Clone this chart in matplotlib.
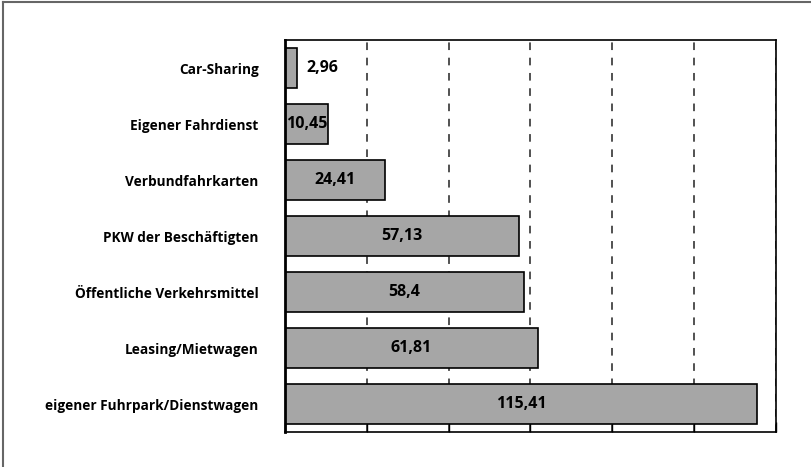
import matplotlib.pyplot as plt
from matplotlib.lines import Line2D

# Kategorien und Werte (von oben nach unten)
categories = ['Car-Sharing', 'Eigener Fahrdienst', 'Verbundfahrkarten',
              'PKW der Beschäftigten', 'Öffentliche Verkehrsmittel',
              'Leasing/Mietwagen', 'eigener Fuhrpark/Dienstwagen']
values = [2.96, 10.45, 24.41, 57.13, 58.4, 61.81, 115.41]
labels = ['2,96', '10,45', '24,41', '57,13', '58,4', '61,81', '115,41']
xticks = [0, 20, 40, 60, 80, 100, 120]

plt.rcParams['font.family'] = ['Open Sans', 'DejaVu Sans']

fig = plt.figure(figsize=(8.12, 4.67), dpi=100)
ax = fig.add_axes([285 / 812, 1 - 432 / 467, (776 - 285) / 812, (432 - 40) / 467])

ypos = list(range(len(categories)))
bars = ax.barh(ypos, values, height=0.7, color='#a6a6a6', edgecolor='black', linewidth=1.2)

for y, v, lab in zip(ypos, values, labels):
    if v < 5:
        ax.text(v + 2.2, y, lab, ha='left', va='center', fontsize=11.5, fontweight='bold')
    else:
        ax.text(v / 2, y, lab, ha='center', va='center', fontsize=11.5, fontweight='bold')

ax.set_xlim(0, 120)
ax.set_ylim(len(categories) - 0.5, -0.5)
ax.set_xticks(xticks)
ax.set_yticks(ypos)
ax.set_yticklabels(categories, fontsize=9.8, fontweight='bold')
ax.tick_params(axis='y', length=0, pad=19)
ax.tick_params(axis='x', direction='in', length=7, labelbottom=False, width=1)
ax.xaxis.grid(True, linestyle=(0, (5, 5)), color='#222222', linewidth=1.1)
ax.set_axisbelow(True)
for s in ax.spines.values():
    s.set_linewidth(1.2)
ax.spines['left'].set_linewidth(2)

# Rahmen links und oben
fig.add_artist(Line2D([3 / 812, 3 / 812], [0, 1 - 2 / 467], color='#666666', lw=1.5))
fig.add_artist(Line2D([3 / 812, 1], [1 - 2 / 467, 1 - 2 / 467], color='#666666', lw=1.5))

fig.savefig('out.png', dpi=100)
